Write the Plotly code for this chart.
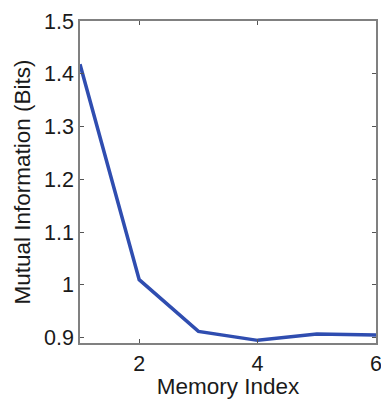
import plotly.graph_objects as go

memory_index = [1, 2, 3, 4, 5, 6]
mutual_info = [1.418, 1.010, 0.912, 0.895, 0.907, 0.905]
x_ticks = [2, 4, 6]
y_ticks = [0.9, 1.0, 1.1, 1.2, 1.3, 1.4, 1.5]
y_tick_text = ["0.9", "1", "1.1", "1.2", "1.3", "1.4", "1.5"]

fig = go.Figure()
fig.add_trace(go.Scatter(x=memory_index, y=mutual_info, mode="lines",
                         line=dict(color="#2f4db0", width=3.5)))

axis_common = dict(showline=True, linecolor="#808080", linewidth=1.5, mirror="ticks",
                   ticks="inside", ticklen=4, tickcolor="#555555", showgrid=False,
                   zeroline=False, automargin=False, ticklabeloverflow="allow",
                   tickfont=dict(size=21.5, color="#1a1a1a"))

fig.update_layout(
    width=381, height=399,
    margin=dict(l=80, r=5, t=21, b=56),
    paper_bgcolor="white", plot_bgcolor="white",
    font=dict(family="Liberation Sans, Arial, sans-serif", color="#1a1a1a"),
    showlegend=False,
    xaxis=dict(range=[1, 6], tickvals=x_ticks,
               title=dict(text="Memory Index", font=dict(size=22.5), standoff=4),
               **axis_common),
    yaxis=dict(range=[0.89, 1.5], tickvals=y_ticks, ticktext=y_tick_text,
               title=dict(text="Mutual Information (Bits)", font=dict(size=22.5), standoff=7),
               **axis_common),
)

fig.write_html("out.html")
